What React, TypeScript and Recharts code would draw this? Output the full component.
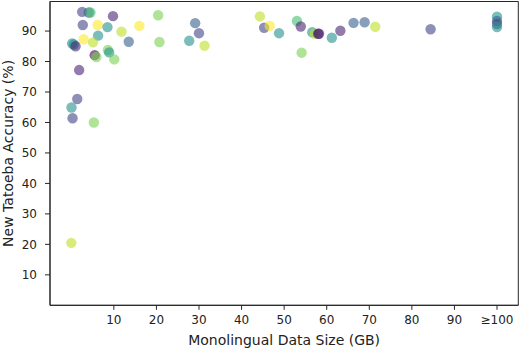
import React from 'react';
import { ScatterChart, Scatter, XAxis, YAxis, ReferenceArea } from 'recharts';

// Monolingual data size (GB), capped at 100 (shown as "≥100")
const dataSizes = [
  2.55, 4.1, 4.5, 9.8, 20.4, 2.7, 6.2, 8.5, 11.8, 16.0,
  29.1, 30.0, 6.3, 2.9, 5.1, 0.2, 0.6, 1.0, 13.5, 20.7,
  27.7, 31.3, 8.6, 8.9, 5.5, 5.9, 10.1, 1.85, 1.4, 0.05,
  0.3, 5.3, 0.0, 44.3, 45.3, 46.6, 48.8, 53.0, 53.9, 54.1,
  56.6, 57.2, 58.0, 58.2, 61.2, 63.2, 66.3, 68.9, 71.4, 84.4,
  100, 100, 100, 100,
];

// New Tatoeba accuracy (%)
const accuracies = [
  96.3, 96.1, 96.1, 94.9, 95.2, 92.0, 92.0, 91.3, 89.8, 91.7,
  92.6, 89.3, 88.5, 87.3, 86.3, 85.9, 85.6, 85.0, 86.5, 86.4,
  86.8, 85.2, 83.8, 83.0, 82.1, 81.5, 80.7, 77.2, 67.7, 64.9,
  61.4, 60.0, 20.5, 94.8, 91.1, 91.7, 89.3, 93.3, 91.5, 82.9,
  89.6, 89.1, 89.1, 89.1, 87.8, 90.1, 92.7, 92.9, 91.4, 90.6,
  94.7, 93.3, 92.3, 91.3,
];

// colour variable (viridis level 0..1)
const colorLevels = [
  0.2, 0.3, 0.7, 0.1, 0.8, 0.2, 1.0, 0.5, 0.9, 1.0,
  0.3, 0.2, 0.5, 1.0, 0.9, 0.5, 0.5, 0.1, 0.3, 0.8,
  0.5, 0.9, 0.8, 0.5, 0.0, 0.8, 0.8, 0.1, 0.2, 0.5,
  0.2, 0.8, 0.9, 0.9, 0.2, 1.0, 0.5, 0.7, 0.1, 0.8,
  0.5, 0.9, 0.0, 0.1, 0.5, 0.1, 0.3, 0.3, 0.9, 0.2,
  0.5, 0.3, 0.2, 0.5,
];

const xTicks = [10, 20, 30, 40, 50, 60, 70, 80, 90, 100];
const yTicks = [10, 20, 30, 40, 50, 60, 70, 80, 90];

const viridis: Record<string, string> = {
  '0': '#440154', '0.1': '#482475', '0.2': '#414487', '0.3': '#355f8d',
  '0.4': '#2a788e', '0.5': '#21918c', '0.6': '#22a884', '0.7': '#44bf70',
  '0.8': '#7ad151', '0.9': '#bddf26', '1': '#fde725',
};

const points = dataSizes.map((x, i) => ({
  x,
  y: accuracies[i],
  color: viridis[String(colorLevels[i])],
}));

const FONT = 'DejaVu Sans';
const AXIS = '#262626';

const Dot = (props: any) => {
  const { cx, cy, payload } = props;
  if (cx == null || cy == null) return null;
  return <circle cx={cx} cy={cy} r={5.2} fill={payload.color} fillOpacity={0.6} />;
};

export default function App() {
  return (
    <div style={{ position: 'absolute', left: 0, top: 0, width: 520, height: 348, background: '#fff' }}>
      <ScatterChart
        width={520}
        height={348}
        margin={{ top: 1.5, right: 1.7, bottom: 0, left: 0 }}
      >
        <XAxis
          type="number"
          dataKey="x"
          domain={[-5, 105]}
          ticks={xTicks}
          tickFormatter={(v: number) => (v >= 100 ? '≥100' : String(v))}
          height={42.7}
          allowDataOverflow
          stroke={AXIS}
          tickSize={4.5}
          tickMargin={6}
          tick={{ fontFamily: FONT, fontSize: 12, fill: '#222' }}
          label={{
            value: 'Monolingual Data Size (GB)',
            position: 'insideBottom',
            offset: 3,
            style: { fontFamily: FONT, fontSize: 14, fill: '#222' },
          }}
        />
        <YAxis
          type="number"
          dataKey="y"
          domain={[0, 99.7]}
          ticks={yTicks}
          width={50}
          allowDataOverflow
          stroke={AXIS}
          tickSize={5}
          tickMargin={8}
          tick={{ fontFamily: FONT, fontSize: 12, fill: '#222' }}
          label={{
            value: 'New Tatoeba Accuracy (%)',
            angle: -90,
            position: 'insideLeft',
            offset: 8,
            style: { fontFamily: FONT, fontSize: 14, fill: '#222', textAnchor: 'middle' },
          }}
        />
        <ReferenceArea x1={-5} x2={105} y1={0} y2={99.7} fill="none" stroke={AXIS} strokeWidth={1} />
        <Scatter data={points} shape={<Dot />} isAnimationActive={false} />
      </ScatterChart>
    </div>
  );
}
